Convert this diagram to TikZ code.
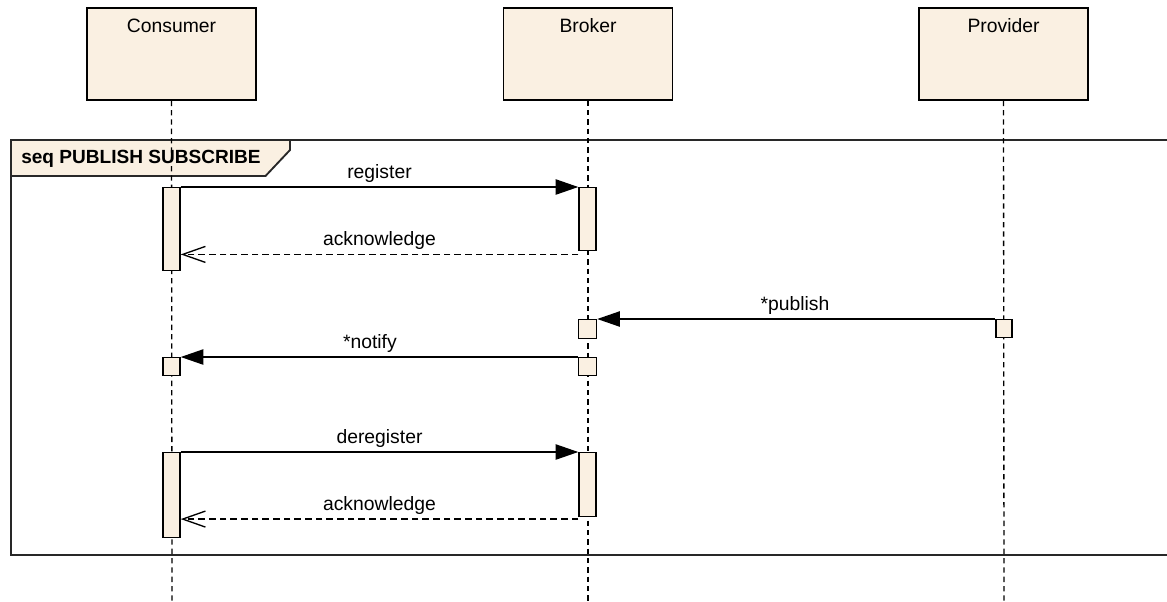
\documentclass[tikz,border=0pt]{standalone}
\usepackage{fontspec}
\setmainfont{Liberation Sans}
\usetikzlibrary{arrows.meta}
\definecolor{umlfill}{RGB}{250,240,226}
\definecolor{frameline}{RGB}{40,40,40}
\tikzset{
  head/.style={draw=black, fill=umlfill, line width=1.1pt, minimum width=169*0.75pt,
    minimum height=92*0.75pt, inner sep=0pt},
  headtext/.style={font=\fontsize{14.5}{16}\selectfont, inner sep=0pt},
  lifeline/.style={line width=1pt, dash pattern=on 4pt off 3pt},
  act/.style={draw=black, fill=umlfill, line width=1.1pt, minimum width=17*0.75pt,
    inner sep=0pt, anchor=north},
  call/.style={line width=1pt, -{Triangle[length=17pt,width=11.5pt]}},
  reply/.style={line width=1pt, dash pattern=on 5pt off 3pt,
    -{Straight Barb[length=17pt,width=12pt,line width=1pt]}},
  msglabel/.style={font=\fontsize{14.5}{16}\selectfont, above=3pt, inner sep=0pt}
}
\begin{document}
\begin{tikzpicture}[x=0.75pt, y=-0.75pt]
\useasboundingbox (0,0) rectangle (1167,601);
\clip (0,0) rectangle (1167,601);

% interaction frame with its name tab
\draw[frameline, line width=1.4pt] (11,140) rectangle (1185,555);
\draw[frameline, fill=umlfill, line width=1.4pt]
  (11,140) -- (290,140) -- (290,150) -- (265.5,176) -- (11,176) -- cycle;
\node[font=\fontsize{14.3}{16}\selectfont\bfseries, anchor=base west, inner sep=0pt]
  (frametitle) at (21,163.5) {seq PUBLISH SUBSCRIBE};

% lifeline heads
\node[head] (consumer) at (171.5,54) {};
\node[head] (broker)   at (588,54) {};
\node[head] (provider) at (1003.5,54) {};
\node[headtext] (consumerlbl) at (171.5,26) {Consumer};
\node[headtext] (brokerlbl)   at (588,26) {Broker};
\node[headtext] (providerlbl) at (1003.5,26) {Provider};

% lifelines
\coordinate (consumerend) at (172,601);
\coordinate (brokerend)   at (588,601);
\coordinate (providerend) at (1004,601);
\draw[lifeline] (consumer.south) -- (consumerend);
\draw[lifeline] (broker.south) -- (brokerend);
\draw[lifeline] (provider.south) -- (providerend);

% activation bars
\node[act, minimum height=83*0.75pt] (ca1) at (171.5,187) {};
\node[act, minimum height=63*0.75pt] (ba1) at (587.5,187) {};
\node[act, minimum width=18*0.75pt, minimum height=18.5*0.75pt] (bp) at (587.5,319) {};
\node[act, minimum width=16*0.75pt, minimum height=18*0.75pt] (pp) at (1004,319) {};
\node[act, minimum height=18*0.75pt] (cn) at (171.5,357) {};
\node[act, minimum width=18*0.75pt, minimum height=18*0.75pt] (bn) at (587.5,357) {};
\node[act, minimum height=85*0.75pt] (ca2) at (171.5,452) {};
\node[act, minimum height=64*0.75pt] (ba2) at (587.5,452) {};

% messages
\draw[call] (ca1.north east) -- node[msglabel] {register} (ba1.north west);
\draw[reply] ([yshift=-2.2pt]ba1.south west) -- node[msglabel] {acknowledge}
  ([yshift=-2.2pt]ba1.south west -| ca1.east);
\draw[call] (pp.north west) -- node[msglabel, xshift=-1pt] {*publish} (bp.north east);
\draw[call] (bn.north west) -- node[msglabel, xshift=-7pt] {*notify} (cn.north east);
\draw[call] (ca2.north east) -- node[msglabel] {deregister} (ba2.north west);
\draw[reply] ([yshift=-1.2pt]ba2.south west) -- node[msglabel] {acknowledge}
  ([yshift=-1.2pt]ba2.south west -| ca2.east);
\end{tikzpicture}
\end{document}
